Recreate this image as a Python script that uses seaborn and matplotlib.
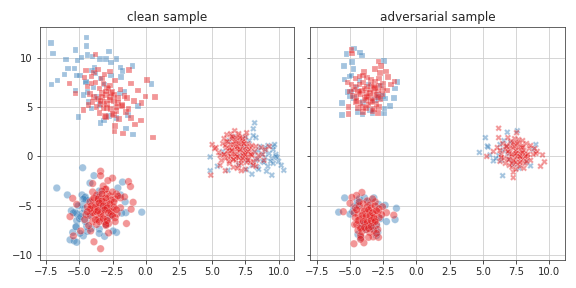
import pandas as pd
import matplotlib
matplotlib.use("Agg")
import matplotlib.pyplot as plt
import seaborn as sns

# clean sample, cluster 0 (squares)
clean_sq_blue_x = [-7.15,-7.0,-7.1,-6.65,-6.1,-5.85,-6.0,-5.3,-4.45,-4.45,-5.15,-4.85,-4.4,-4.0,-3.45,-3.0,-2.75,-2.2,-2.6,-3.85,-4.05,-5.2,-4.95,-5.35,-1.9,-1.75,-1.85,-1.0,0.45,-5.3,-5.05,-4.1,-3.4,-3.15,-1.5,-0.95,-0.6,-1.95,-3.4,-4.5,-4.7,-3.95,-2.75,-1.35,-1.6,-4.5,-3.7,-3.1,-2.6,-4.3,-3.5,-2.2,-4.4,-3.8]
clean_sq_blue_y = [11.5,10.4,7.3,7.7,8.3,8.9,9.8,10.8,12.05,11.2,9.7,10.0,10.25,10.1,9.85,9.85,10.6,9.85,9.5,9.0,8.7,8.2,8.2,8.9,9.0,8.65,8.05,9.15,7.35,6.7,4.0,4.85,3.4,3.65,2.8,2.2,5.1,6.35,7.9,7.6,6.2,7.0,4.1,4.2,6.6,7.5,6.0,7.3,8.2,5.5,5.2,3.9,6.5,8.4]
clean_sq_red_x = [-3.8,-1.25,0.1,0.7,0.0,-0.3,-0.6,-1.1,-5.75,-5.3,-4.7,-2.35,-1.7,0.55,-2.3,-0.8,-0.35,-1.1,-3.05,-2.4,-1.8,-3.9,-4.6,-4.4,-4.1,-3.8,-3.5,-3.3,-3.1,-2.9,-2.7,-2.5,-2.3,-2.1,-1.9,-1.6,-1.4,-4.2,-3.9,-3.6,-3.3,-3.0,-2.7,-2.4,-2.1,-1.8,-4.3,-4.0,-3.7,-3.4,-3.2,-2.9,-2.6,-2.2,-1.5,-3.5,-3.0,-2.5,-2.0,-1.3,-0.9,-3.2,-2.7,-4.5,-4.1,-3.6,-3.3,-3.1,-2.8,-2.6,-2.9,-2.4,-3.4,-2.2,-3.0,-2.7]
clean_sq_red_y = [10.3,8.75,7.75,6.0,6.05,5.4,6.7,7.4,7.4,6.35,4.7,2.5,2.3,1.9,3.1,3.25,3.65,3.9,4.1,4.2,5.2,8.5,8.0,7.1,7.4,7.5,6.9,7.9,8.3,7.0,8.6,6.6,7.7,5.9,6.8,6.1,5.9,6.3,6.0,5.8,6.4,6.2,6.0,5.6,5.4,5.1,5.2,5.5,5.0,5.3,4.9,5.3,4.8,4.6,4.5,4.4,4.0,4.3,3.8,4.8,5.6,7.4,7.2,8.7,8.1,8.8,6.0,5.5,6.9,6.4,4.9,6.2,5.6,5.0,6.6,5.7]

# clean sample, cluster 1 (crosses)
clean_x_blue_x = [8.2,8.1,8.3,4.85,4.85,5.4,6.2,7.0,7.6,8.0,8.4,8.8,9.1,9.5,9.6,9.8,10.0,10.4,9.6,9.2,8.6,8.2,7.8,7.4,9.5,9.9,9.3,8.9,8.5,8.1,6.6,7.1,7.6,5.8,6.3,9.0,9.7,10.2,8.7,8.3,9.4,9.0,8.5,9.8,9.2,8.0,7.5,9.6,9.0,8.4]
clean_x_blue_y = [3.4,2.8,1.9,-0.05,-1.45,-1.0,-1.4,-0.8,-1.35,-1.8,-1.1,-0.5,-1.5,-1.9,1.0,0.2,-0.5,-1.4,0.7,1.1,1.0,0.4,1.6,0.9,-0.2,-0.1,0.3,-0.6,-1.3,2.1,2.0,0.1,-0.4,0.5,1.6,0.5,1.2,-0.9,0.2,-0.4,-0.5,-0.1,0.6,0.0,-1.0,-0.9,1.9,-0.7,0.9,-0.2]
clean_x_red_x = [5.6,4.9,5.0,6.0,6.3,6.6,6.8,7.0,8.3,8.9,9.3,7.5,5.5,5.8,6.1,6.4,6.7,7.0,7.3,7.6,7.9,8.2,5.3,5.6,5.9,6.2,6.5,6.8,7.1,7.4,7.7,8.0,8.4,8.8,5.9,6.2,6.5,6.8,7.1,7.4,7.7,8.0,8.3,6.1,6.4,6.7,7.0,7.3,7.6,7.9,6.3,6.6,6.9,7.2,7.5,6.5,6.8,7.1,7.4,6.6,7.0,6.0,5.2,8.7,9.0,5.7,6.2,7.2,7.6,8.1,6.0,6.3,6.6,6.9,7.2,7.5,7.8,6.2,6.5,6.8,7.1,7.4,7.7,8.0,6.4,6.7,7.0,7.3,7.6,7.9,6.1,6.4,6.7,7.0,7.3,7.6,6.6,6.9,7.2,7.5,6.8,7.1,7.4,6.5,6.9,7.3,7.7,8.1,8.5,5.9]
clean_x_red_y = [-0.9,-1.9,1.2,-1.45,-0.7,-1.1,-0.4,-0.9,-1.0,-0.4,1.0,2.0,0.4,1.3,0.9,0.5,1.1,1.4,1.0,0.3,0.9,0.5,0.9,0.1,0.2,-0.1,0.3,-0.1,0.5,0.0,-0.2,0.2,-0.3,0.2,1.8,1.5,1.8,1.5,1.7,1.5,1.3,1.1,1.0,2.2,2.3,2.6,2.1,1.8,2.4,-0.6,-0.5,-0.3,-1.2,-0.7,-1.3,0.7,0.8,0.6,0.7,1.9,2.3,-0.2,0.8,0.9,0.7,-0.4,0.6,-1.45,-0.6,-0.5,1.1,0.8,1.2,0.7,1.1,0.6,0.7,0.3,0.6,0.2,0.7,0.3,0.5,0.1,0.0,0.2,-0.1,0.1,-0.1,0.2,1.5,1.2,1.5,1.3,1.5,1.0,-0.3,0.0,-0.4,0.2,1.9,1.9,1.3,2.0,1.0,-0.2,-0.4,-0.9,0.1,0.2]

# clean sample, cluster 2 (circles)
clean_o_blue_x = [-4.75,-3.9,-4.2,-6.7,-5.9,-4.8,-0.3,-1.75,-2.1,-1.9,-1.55,-1.5,-1.8,-2.2,-2.45,-3.1,-3.5,-3.5,-5.7,-5.4,-5.2,-5.5,-5.25,-5.2,-4.7,-4.95,-4.45,-5.3,-5.6,-5.2,-4.8,-4.6,-4.55,-4.8,-4.65,-3.5,-4.3,-5.0,-4.55,-3.0,-2.7,-4.1,-3.2,-5.25,-3.6,-4.9,-5.45,-4.4,-4.5,-4.7,-5.1,-4.3]
clean_o_blue_y = [-1.15,-1.95,-2.7,-3.2,-3.9,-3.9,-5.65,-2.6,-3.2,-3.9,-4.6,-5.7,-5.75,-7.7,-7.55,-8.1,-7.35,-7.8,-8.45,-8.55,-8.7,-7.7,-7.1,-6.5,-8.05,-7.8,-7.1,-5.7,-5.5,-5.8,-5.8,-4.2,-4.1,-4.9,-5.3,-3.5,-4.5,-6.3,-6.6,-6.9,-6.1,-7.3,-5.2,-7.15,-4.0,-6.1,-5.7,-7.6,-4.4,-4.3,-5.0,-6.0]
clean_o_red_x = [-3.4,-3.4,-2.5,-2.85,-4.0,-1.3,-1.15,-3.05,-5.5,-5.2,-0.95,-1.1,-1.45,-2.8,-3.9,-3.4,-5.45,-5.7,-4.9,-4.15,-3.2,-3.0,-2.2,-1.9,-1.6,-4.0,-3.7,-3.5,-3.3,-3.1,-2.9,-2.7,-2.5,-2.3,-2.1,-4.2,-4.0,-3.8,-3.6,-3.4,-3.2,-3.0,-2.8,-2.6,-2.4,-4.4,-4.1,-3.9,-3.6,-3.3,-3.0,-2.7,-2.4,-2.15,-1.9,-4.5,-4.2,-3.8,-3.5,-3.2,-2.9,-2.6,-2.3,-4.6,-4.0,-3.7,-3.1,-2.8,-4.3,-3.6,-3.0,-3.9,-3.6,-3.3,-3.0,-2.7,-2.4,-4.1,-3.8,-3.5,-3.2,-2.9,-2.6,-4.0,-3.7,-3.4,-3.1,-2.8,-2.5,-3.8,-3.5,-3.2,-2.9,-4.2,-4.4,-2.3,-3.3,-3.0,-3.6,-2.2]
clean_o_red_y = [-1.5,-1.95,-2.2,-2.45,-2.75,-2.55,-3.05,-3.35,-4.25,-4.85,-4.65,-5.35,-6.8,-7.75,-8.65,-9.35,-8.05,-6.1,-7.55,-7.55,-3.0,-3.3,-3.8,-4.2,-4.1,-3.6,-3.9,-4.1,-3.5,-4.3,-3.8,-4.0,-3.6,-4.3,-4.0,-4.6,-4.4,-4.8,-4.5,-4.9,-4.6,-5.0,-4.7,-4.4,-5.1,-5.1,-5.3,-5.5,-5.2,-5.6,-5.3,-5.5,-5.2,-5.8,-5.2,-5.9,-6.0,-5.9,-6.2,-6.0,-6.3,-5.9,-6.2,-6.4,-6.6,-6.9,-6.6,-6.8,-7.0,-6.4,-7.0,-4.2,-4.3,-4.5,-4.2,-4.8,-4.6,-5.0,-5.1,-4.7,-5.0,-5.2,-5.6,-5.7,-5.6,-5.8,-5.4,-5.7,-6.0,-6.4,-6.6,-6.3,-6.5,-5.3,-5.6,-6.6,-3.8,-6.9,-5.5,-5.4]

# adversarial sample, cluster 0 (squares)
adv_sq_blue_x = [-4.7,-5.25,-4.25,-4.1,-4.85,-5.45,-2.45,-4.75,-5.4,-1.4,-1.6,-1.7,-2.0,-5.6,-5.6,-2.45,-2.4,-4.4,-4.05,-5.0,-2.35,-5.05,-4.9,-2.8,-2.9,-3.1,-4.0,-3.6,-2.5,-4.5,-3.5,-5.2,-2.7,-3.3,-4.7,-4.9,-4.3]
adv_sq_blue_y = [10.95,10.35,10.5,10.2,9.55,9.15,9.65,8.85,7.8,7.55,6.9,5.9,5.1,5.4,4.2,4.35,4.85,4.5,4.25,6.1,5.85,8.1,8.2,5.9,6.2,5.7,5.5,7.3,6.1,7.0,4.7,6.5,7.2,4.4,5.9,6.6,7.7]
adv_sq_red_x = [-4.9,-4.85,-2.85,-2.65,-3.1,-2.3,-2.75,-3.95,-2.15,-1.65,-1.9,-5.1,-5.1,-4.6,-4.3,-4.0,-3.7,-3.4,-3.1,-2.8,-2.5,-5.2,-4.9,-4.6,-4.3,-4.0,-3.7,-3.4,-3.1,-2.8,-2.5,-2.2,-5.0,-4.7,-4.4,-4.1,-3.8,-3.5,-3.2,-2.9,-2.6,-4.8,-4.5,-4.2,-3.9,-3.6,-3.3,-3.0,-2.7,-4.6,-4.2,-3.8,-3.4,-3.0,-4.4,-4.0,-3.6,-3.2,-2.8,-4.0,-3.3,-2.9,-3.9,-3.5,-3.1,-4.3,-3.7,-3.3,-2.9,-4.5,-3.2,-3.8]
adv_sq_red_y = [10.8,10.4,9.6,9.15,8.85,8.6,8.45,8.55,8.05,7.6,7.3,4.3,5.0,7.9,8.1,8.2,8.0,7.8,7.6,7.9,7.4,7.5,7.3,7.1,7.3,7.5,7.1,7.3,7.0,7.2,6.9,6.7,6.6,6.8,6.5,6.7,6.4,6.8,6.5,6.7,6.3,6.1,6.0,6.3,5.9,6.1,5.9,6.2,5.8,5.5,5.4,5.7,5.5,5.3,4.9,5.0,5.2,4.8,5.0,4.5,4.6,4.4,6.9,6.4,6.9,6.6,6.0,5.6,6.0,5.6,7.1,4.9]

# adversarial sample, cluster 1 (crosses)
adv_x_blue_x = [5.2,5.35,4.75,5.4,6.85,7.6,9.0,5.8,6.5,8.6,7.75,5.55,6.2,6.5,6.8,7.1,6.4,6.0,6.6,7.3,7.0,6.3,6.9,8.3,8.8]
adv_x_blue_y = [1.9,1.05,0.4,0.95,2.45,2.6,1.2,-0.45,-1.95,-0.95,-1.2,0.15,0.1,0.6,1.0,1.4,-0.4,-0.2,1.6,-0.8,-0.3,1.2,0.3,-0.6,0.7]
adv_x_red_x = [6.2,6.2,7.55,5.3,7.3,7.3,9.5,9.65,9.35,6.3,5.8,6.1,6.4,6.7,7.0,7.3,7.6,7.9,8.2,8.5,8.8,9.1,6.5,6.8,7.1,7.4,7.7,8.0,8.3,8.6,8.9,6.6,6.9,7.2,7.5,7.8,8.1,8.4,6.7,7.0,7.3,7.6,7.9,8.2,7.2,7.5,7.8,8.1,7.4,7.7,8.0,6.3,6.9,8.6,7.0,7.4,6.4,7.9,8.3,9.0,6.9,7.2,7.5,7.8,8.1,8.4,7.0,7.3,7.6,7.9,8.2,7.1,7.4,7.7,8.0,7.2,7.5,7.8,7.3,7.6,6.8,8.3,7.5,7.8,8.0]
adv_x_red_y = [2.85,1.9,2.4,0.0,-1.6,-2.15,0.15,-0.55,-1.0,-0.5,0.5,0.9,0.2,0.7,0.3,0.8,0.4,0.9,0.3,0.8,0.2,0.5,1.3,1.1,1.5,1.2,1.4,1.1,1.3,1.1,0.8,-0.2,-0.3,0.0,-0.2,0.0,-0.3,-0.1,-0.7,-0.9,-0.5,-0.8,-0.5,-0.7,-1.1,-1.3,-1.0,-1.2,1.8,1.7,1.6,0.6,1.9,-0.4,0.6,0.2,-0.1,0.5,0.1,0.3,0.5,0.2,0.6,0.3,0.6,0.2,-0.3,-0.4,0.0,-0.1,0.0,1.0,1.0,0.9,0.9,-0.7,-0.6,-0.6,1.4,1.3,1.0,-0.5,0.3,0.0,0.4]

# adversarial sample, cluster 2 (circles)
adv_o_blue_x = [-5.4,-5.85,-1.5,-1.6,-2.35,-2.85,-3.2,-2.25,-5.0,-4.45,-4.4,-4.2,-2.9,-3.0,-4.3,-4.7,-3.5,-3.8,-3.3,-4.1,-4.8,-3.0,-2.7,-3.6,-4.4,-3.9]
adv_o_blue_y = [-4.2,-5.65,-5.25,-6.4,-4.95,-4.85,-4.2,-6.6,-5.85,-4.55,-7.9,-8.25,-7.7,-8.0,-4.3,-5.1,-7.1,-7.4,-7.3,-6.9,-5.6,-7.0,-6.3,-4.6,-4.9,-4.2]
adv_o_red_x = [-4.1,-4.5,-4.85,-5.0,-5.5,-1.7,-2.25,-2.55,-4.7,-3.95,-4.15,-3.25,-2.85,-4.65,-3.7,-3.5,-3.1,-4.6,-4.3,-4.0,-3.7,-3.4,-3.1,-2.8,-4.7,-4.4,-4.1,-3.8,-3.5,-3.2,-2.9,-2.6,-4.6,-4.3,-4.0,-3.7,-3.4,-3.1,-2.8,-4.5,-4.2,-3.9,-3.6,-3.3,-3.0,-2.9,-4.4,-4.1,-3.8,-3.5,-3.2,-4.2,-4.2,-3.6,-3.0,-3.3,-3.9,-3.6,-3.3,-3.0,-4.1,-3.8,-3.5,-3.2,-4.4,-4.0,-3.7,-3.4,-3.1,-4.2,-3.9,-3.6,-4.5,-4.3,-3.4]
adv_o_red_y = [-3.65,-3.95,-4.15,-4.75,-5.6,-5.95,-5.7,-5.1,-8.85,-8.75,-8.2,-8.15,-8.2,-6.9,-4.5,-4.9,-4.6,-5.2,-5.0,-4.8,-5.1,-5.2,-5.0,-5.3,-5.7,-5.9,-5.5,-5.8,-5.6,-5.9,-5.6,-5.9,-6.2,-6.4,-6.2,-6.5,-6.2,-6.4,-6.2,-6.9,-7.1,-6.8,-7.0,-6.7,-6.9,-7.4,-7.5,-7.6,-7.4,-7.7,-7.5,-8.0,-8.4,-8.2,-7.8,-4.3,-5.5,-5.4,-5.7,-5.5,-6.0,-6.1,-6.0,-6.2,-6.5,-6.6,-6.7,-6.5,-6.6,-7.3,-7.2,-7.3,-5.4,-4.6,-7.1]

xticks = [-7.5,-5.0,-2.5,0.0,2.5,5.0,7.5,10.0]
yticks = [-10,-5,0,5,10]


def frame(parts):
    rows = []
    for lab, cluster, xs, ys in parts:
        rows.append(pd.DataFrame({"x": xs, "y": ys, "label": lab, "cluster": cluster}))
    return pd.concat(rows, ignore_index=True)


clean = frame([
    ("b", "s", clean_sq_blue_x, clean_sq_blue_y),
    ("b", "x", clean_x_blue_x, clean_x_blue_y),
    ("b", "o", clean_o_blue_x, clean_o_blue_y),
    ("r", "s", clean_sq_red_x, clean_sq_red_y),
    ("r", "x", clean_x_red_x, clean_x_red_y),
    ("r", "o", clean_o_red_x, clean_o_red_y),
])
adv = frame([
    ("b", "s", adv_sq_blue_x, adv_sq_blue_y),
    ("b", "x", adv_x_blue_x, adv_x_blue_y),
    ("b", "o", adv_o_blue_x, adv_o_blue_y),
    ("r", "s", adv_sq_red_x, adv_sq_red_y),
    ("r", "x", adv_x_red_x, adv_x_red_y),
    ("r", "o", adv_o_red_x, adv_o_red_y),
])

sns.set_style("ticks", {"axes.grid": True, "grid.color": ".8", "axes.edgecolor": ".25"})
colors = {"b": "#377eb8", "r": "#e41a1c"}
markers = {"s": "s", "x": "X", "o": "o"}
sizes = {"s": 30, "x": 40, "o": 56}

fig, axes = plt.subplots(1, 2, figsize=(8, 4), dpi=72, sharex=True, sharey=True)
for ax, df, title in zip(axes, [clean, adv], ["clean sample", "adversarial sample"]):
    sns.scatterplot(data=df, x="x", y="y", hue="label", style="cluster", size="cluster",
                    palette=colors, markers=markers, sizes=sizes, alpha=0.45,
                    legend=False, ax=ax)
    ax.set_title(title, fontsize=12)
    ax.set_xlabel("")
    ax.set_ylabel("")
    ax.set_xticks(xticks)
    ax.set_yticks(yticks)
    ax.set_xlim(-8.0, 11.2)
    ax.set_ylim(-10.5, 13.1)
    ax.tick_params(labelsize=10)
fig.subplots_adjust(left=0.0686, right=0.981, top=0.906, bottom=0.097, wspace=0.0615)
fig.savefig("out.png", dpi=72)
